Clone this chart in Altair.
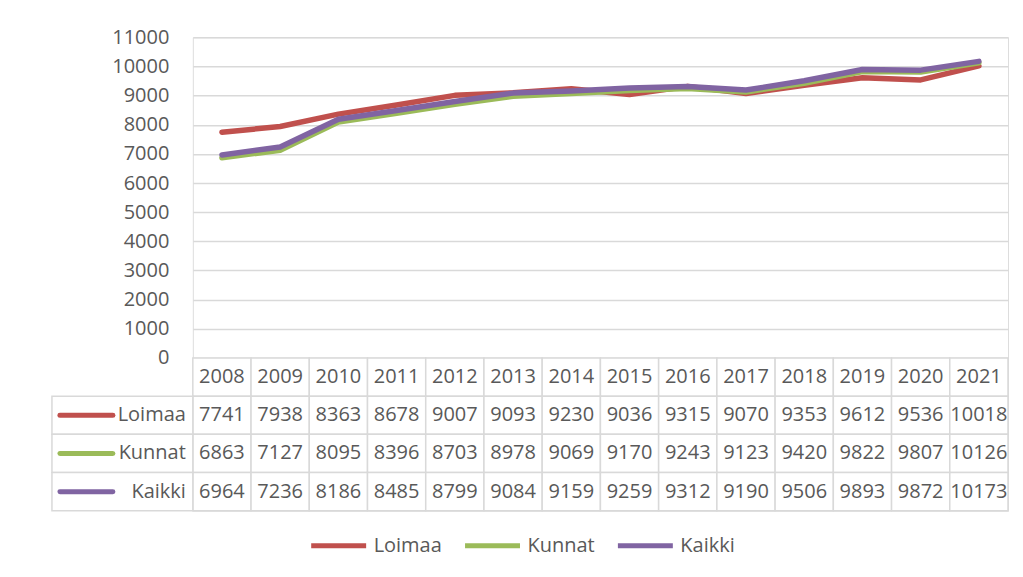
import altair as alt
import pandas as pd

years = [2008, 2009, 2010, 2011, 2012, 2013, 2014, 2015, 2016, 2017, 2018, 2019, 2020, 2021]
series_names = ["Loimaa", "Kunnat", "Kaikki"]
series_colors = ["#C0504D", "#9BBB59", "#8064A2"]
loimaa = [7741, 7938, 8363, 8678, 9007, 9093, 9230, 9036, 9315, 9070, 9353, 9612, 9536, 10018]
kunnat = [6863, 7127, 8095, 8396, 8703, 8978, 9069, 9170, 9243, 9123, 9420, 9822, 9807, 10126]
kaikki = [6964, 7236, 8186, 8485, 8799, 9084, 9159, 9259, 9312, 9190, 9506, 9893, 9872, 10173]
y_ticks = list(range(0, 11001, 1000))

FONT = "Open Sans"
TXT = "#595959"
GRID = "#d9d9d9"
W = 816

values = {"Loimaa": loimaa, "Kunnat": kunnat, "Kaikki": kaikki}
long_rows = []
for s in series_names:
    for y, v in zip(years, values[s]):
        long_rows.append({"year": str(y), "series": s, "value": v})
long_df = pd.DataFrame(long_rows)

year_dom = [str(y) for y in years]
row_dom = ["hdr"] + series_names

table_rows = []
for y in years:
    table_rows.append({"year": str(y), "row": "hdr", "text": str(y)})
for s in series_names:
    for y, v in zip(years, values[s]):
        table_rows.append({"year": str(y), "row": s, "text": str(v)})
table_df = pd.DataFrame(table_rows)
label_df = pd.DataFrame({"row": series_names, "series": series_names})

color_scale = alt.Scale(domain=series_names, range=series_colors)

lines = alt.Chart(long_df).mark_line(
    strokeWidth=5.5, strokeCap="round", strokeJoin="round"
).encode(
    x=alt.X("year:O", sort=year_dom,
            scale=alt.Scale(type="point", domain=year_dom, padding=0.5),
            axis=None),
    y=alt.Y("value:Q", scale=alt.Scale(domain=[0, 11000], nice=False),
            axis=alt.Axis(values=y_ticks, format="d", title=None, domain=False, ticks=False,
                          grid=True, gridColor=GRID, gridWidth=1.5,
                          labelFont=FONT, labelFontSize=20, labelColor=TXT,
                          labelPadding=24)),
    color=alt.Color("series:N", scale=color_scale, sort=series_names,
                    legend=alt.Legend(title=None, orient="none", legendX=116, legendY=479,
                                      direction="horizontal", symbolType="stroke",
                                      symbolSize=3025, symbolStrokeWidth=5,
                                      gridAlign="none",
                                      labelFont=FONT, labelFontSize=20, labelColor=TXT,
                                      columnPadding=12, labelOffset=5)),
).properties(width=W, height=321)

xband = alt.X("year:O", sort=year_dom,
              scale=alt.Scale(type="band", domain=year_dom, paddingInner=0, paddingOuter=0),
              axis=None)
yband = alt.Y("row:N", sort=row_dom,
              scale=alt.Scale(type="band", domain=row_dom, paddingInner=0, paddingOuter=0),
              axis=None)

cells = alt.Chart(table_df).mark_rect(fill="white", stroke=GRID, strokeWidth=1.5).encode(
    x=xband, y=yband)
cell_text = alt.Chart(table_df).mark_text(
    font=FONT, fontSize=20, color=TXT, align="center", baseline="middle"
).encode(
    x=alt.X("year:O", sort=year_dom, bandPosition=0.5,
            scale=alt.Scale(type="band", domain=year_dom, paddingInner=0, paddingOuter=0),
            axis=None),
    y=alt.Y("row:N", sort=row_dom, bandPosition=0.5,
            scale=alt.Scale(type="band", domain=row_dom, paddingInner=0, paddingOuter=0),
            axis=None),
    text="text:N")

label_cells = alt.Chart(label_df).mark_rect(fill="white", stroke=GRID, strokeWidth=1.5).encode(
    x=alt.value(-141), x2=alt.value(0), y=yband)
label_text = alt.Chart(label_df).mark_text(
    font=FONT, fontSize=20, color=TXT, align="right", baseline="middle"
).encode(
    x=alt.value(-7),
    y=alt.Y("row:N", sort=row_dom, bandPosition=0.5,
            scale=alt.Scale(type="band", domain=row_dom, paddingInner=0, paddingOuter=0),
            axis=None),
    text="row:N")
swatches = alt.Chart(label_df).mark_rule(strokeWidth=5, strokeCap="round").encode(
    x=alt.value(-133), x2=alt.value(-80),
    y=alt.Y("row:N", sort=row_dom, bandPosition=0.5,
            scale=alt.Scale(type="band", domain=row_dom, paddingInner=0, paddingOuter=0),
            axis=None),
    color=alt.Color("series:N", scale=color_scale, legend=None))

table = alt.layer(cells, cell_text, label_cells, label_text, swatches).properties(
    width=W, height=153)

chart = alt.vconcat(lines, table, spacing=0, bounds="flush").resolve_legend(
    color="independent"
).properties(
    padding={"left": 42, "top": 18, "right": 5, "bottom": 5}
).configure_view(strokeWidth=0).configure(background="white")

chart.save("out.html", embed_options={"renderer": "svg", "actions": False})
